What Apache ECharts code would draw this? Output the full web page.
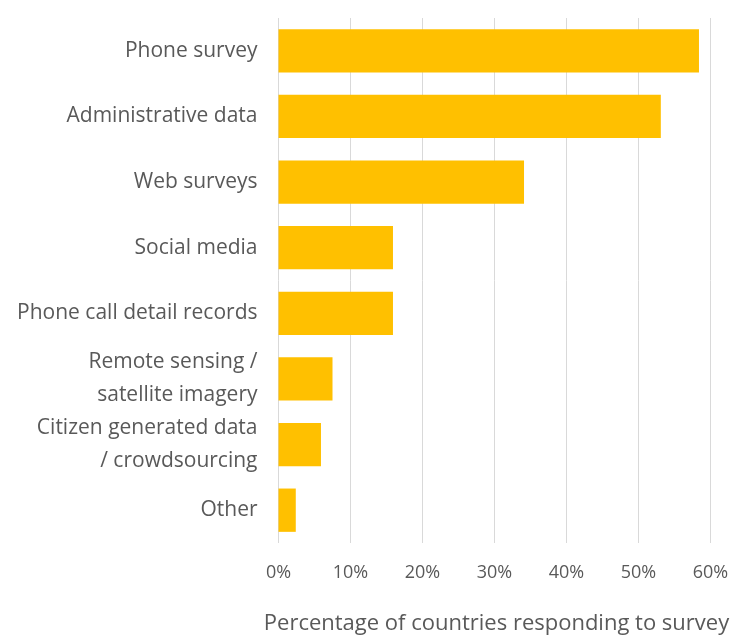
<!DOCTYPE html>
<html>
<head>
<meta charset="utf-8">
<script src="https://cdn.jsdelivr.net/npm/echarts@6/dist/echarts.min.js"></script>
<style>
  html, body { margin: 0; padding: 0; background: #fff; }
  #chart { width: 738px; height: 637px; }
</style>
</head>
<body>
<div id="chart"></div>
<script>
const categories = [
  'Phone survey',
  'Administrative data',
  'Web surveys',
  'Social media',
  'Phone call detail records',
  'Remote sensing /\nsatellite imagery',
  'Citizen generated data\n/ crowdsourcing',
  'Other',
];
const shares = [58.4, 53.1, 34.1, 15.9, 15.9, 7.5, 5.9, 2.4];
const tickValues = [0, 10, 20, 30, 40, 50, 60];

const textColor = '#595959';
const fontFamily = '"Open Sans", Lato, sans-serif';

const chart = echarts.init(document.getElementById('chart'), null, { renderer: 'canvas' });

chart.setOption({
  backgroundColor: '#ffffff',
  animation: false,
  grid: { left: 278.5, right: 27.5, top: 18, bottom: 94, containLabel: false, outerBoundsMode: 'none' },
  xAxis: {
    type: 'value',
    min: tickValues[0],
    max: tickValues[tickValues.length - 1],
    interval: 10,
    name: 'Percentage of countries responding to survey',
    nameLocation: 'middle',
    nameGap: 70,
    nameTextStyle: { color: textColor, fontSize: 22, fontFamily, padding: [0, 0, 0, 4] },
    axisLine: { show: false },
    axisTick: { show: false },
    axisLabel: {
      color: textColor,
      fontSize: 18,
      fontFamily,
      margin: 21,
      formatter: (v) => v + '%',
    },
    splitLine: { show: true, lineStyle: { color: '#d9d9d9', width: 1 } },
  },
  yAxis: {
    type: 'category',
    inverse: true,
    data: categories,
    axisLine: { show: false },
    axisTick: { show: false },
    axisLabel: {
      color: textColor,
      fontSize: 21,
      fontFamily,
      margin: 21,
      lineHeight: 33,
      align: 'right',
    },
  },
  series: [
    {
      type: 'bar',
      data: shares,
      barWidth: '66%',
      itemStyle: { color: '#ffc000' },
    },
  ],
});
</script>
</body>
</html>
